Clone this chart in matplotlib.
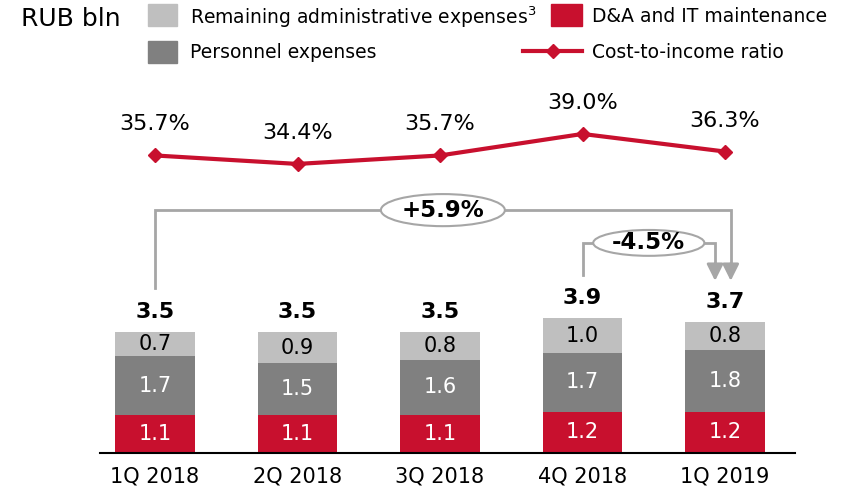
import numpy as np
from matplotlib import pyplot as plt
from matplotlib.patches import Rectangle, Ellipse
from matplotlib.lines import Line2D

quarters = ["1Q 2018", "2Q 2018", "3Q 2018", "4Q 2018", "1Q 2019"]
da_it = [1.1, 1.1, 1.1, 1.2, 1.2]
personnel = [1.7, 1.5, 1.6, 1.7, 1.8]
remaining = [0.7, 0.9, 0.8, 1.0, 0.8]
totals = [3.5, 3.5, 3.5, 3.9, 3.7]
cost_income = [35.7, 34.4, 35.7, 39.0, 36.3]

RED = "#C8102E"
DARK = "#808080"
LIGHT = "#BFBFBF"
BRACKET = "#A6A6A6"

W, H = 846, 492
plt.rcParams["font.family"] = "DejaVu Sans"

fig = plt.figure(figsize=(W / 100, H / 100), dpi=100)


def fx(px):
    return px / W


def fy(py):
    return 1 - py / H


# axes: baseline at y=453 px, top at 90 px
ax = fig.add_axes([fx(100), fy(453), (795 - 100) / W, (453 - 90) / H])
x = np.arange(len(quarters))
ax.set_xlim(-0.386, 4.491)
ax.set_ylim(0, 363 / 34.5)

bw = 0.555
ax.bar(x, da_it, bw, color=RED, linewidth=0)
bottom2 = np.array(da_it)
ax.bar(x, personnel, bw, bottom=bottom2, color=DARK, linewidth=0)
bottom3 = bottom2 + np.array(personnel)
ax.bar(x, remaining, bw, bottom=bottom3, color=LIGHT, linewidth=0)

for i in range(len(x)):
    ax.text(x[i], da_it[i] / 2, f"{da_it[i]:.1f}", ha="center", va="center",
            color="white", fontsize=15)
    ax.text(x[i], bottom2[i] + personnel[i] / 2, f"{personnel[i]:.1f}",
            ha="center", va="center", color="white", fontsize=15)
    ax.text(x[i], bottom3[i] + remaining[i] / 2, f"{remaining[i]:.1f}",
            ha="center", va="center", color="black", fontsize=15)
    ax.annotate(f"{totals[i]:.1f}", (x[i], bottom3[i] + remaining[i]),
                xytext=(0, 14.4), textcoords="offset points",
                ha="center", va="center", fontsize=16, fontweight="bold")

for s in ["top", "left", "right"]:
    ax.spines[s].set_visible(False)
ax.spines["bottom"].set_linewidth(1.5)
ax.set_yticks([])
ax.set_xticks(x)
ax.set_xticklabels(quarters, fontsize=15)
ax.tick_params(axis="x", length=0, pad=10)

# cost-to-income line on twin axis
ax2 = ax.twinx()
ax2.set_ylim(-9.93, 45.74)
ax2.axis("off")
ax2.plot(x, cost_income, color=RED, lw=3, marker="D", markersize=7)
for i in range(len(x)):
    ax2.annotate(f"{cost_income[i]:.1f}%", (x[i], cost_income[i]),
                 xytext=(0, 22.3), textcoords="offset points",
                 ha="center", va="center", fontsize=16)


# brackets
def bracket(x0, y0, x1, y1, ytop, label, ew, eh):
    ax.plot([x0, x0, x1, x1], [y0, ytop, ytop, y1 + 0.35], color=BRACKET,
            lw=2, solid_joinstyle="miter", zorder=3)
    ax.annotate("", xy=(x1, y1), xytext=(x1, y1 + 0.5),
                arrowprops=dict(arrowstyle="-|>,head_width=0.5,head_length=1.0",
                                color=BRACKET, lw=2, shrinkA=0, shrinkB=0))
    xm = (x0 + x1) / 2
    ax.add_patch(Ellipse((xm, ytop), ew, eh, facecolor="white",
                         edgecolor=BRACKET, lw=1.5, zorder=4))
    ax.text(xm, ytop, label, ha="center", va="center", fontsize=16.5,
            fontweight="bold", zorder=5)


bracket(x[0], totals[0] + 1.28, x[4] + 0.04, totals[4] + 1.29, 7.04,
        "+5.9%", 0.87, 0.93)
bracket(x[3], totals[3] + 1.26, x[4] - 0.07, totals[4] + 1.29, 6.09,
        "-4.5%", 0.78, 0.75)

# legend / header
fig.text(fx(21), fy(19), "RUB bln", fontsize=18, va="center")
fig.add_artist(Rectangle((fx(148), fy(26)), 29 / W, 22 / H,
                         transform=fig.transFigure, color=LIGHT))
fig.text(fx(190), fy(17), "Remaining administrative expenses$^3$",
         fontsize=13.5, va="center")
fig.add_artist(Rectangle((fx(148), fy(63)), 29 / W, 22 / H,
                         transform=fig.transFigure, color=DARK))
fig.text(fx(190), fy(52), "Personnel expenses", fontsize=13.5, va="center")
fig.add_artist(Rectangle((fx(551), fy(26)), 31 / W, 22 / H,
                         transform=fig.transFigure, color=RED))
fig.text(fx(592), fy(17), "D&A and IT maintenance", fontsize=13.5, va="center")
fig.add_artist(Line2D([fx(523), fx(582)], [fy(51), fy(51)],
                      transform=fig.transFigure, color=RED, lw=3))
fig.add_artist(Line2D([fx(553)], [fy(51)], transform=fig.transFigure,
                      color=RED, marker="D", markersize=7))
fig.text(fx(592), fy(52), "Cost-to-income ratio", fontsize=13.5, va="center")

fig.savefig("out.png", dpi=100)
